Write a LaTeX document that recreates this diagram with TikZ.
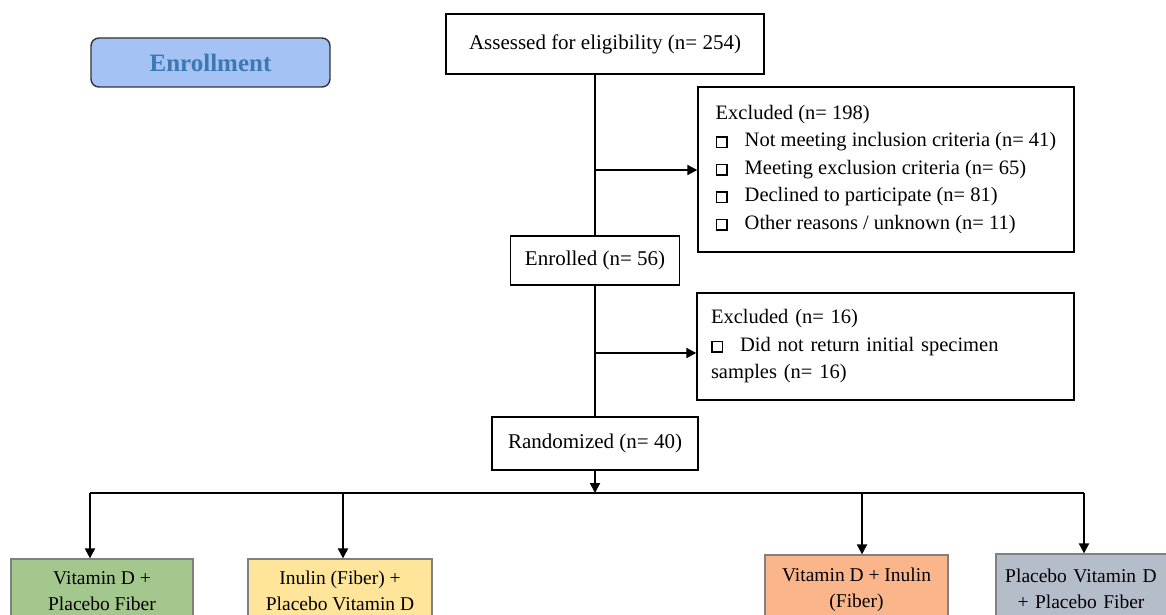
\documentclass[tikz,border=0pt]{standalone}
\usepackage{fontspec}
\setmainfont{Liberation Serif}
\usetikzlibrary{arrows.meta}
\definecolor{enrfill}{HTML}{A4C2F4}
\definecolor{enrtext}{HTML}{3C78B4}
\definecolor{gfill}{HTML}{A3C78D}
\definecolor{yfill}{HTML}{FFE59A}
\definecolor{ofill}{HTML}{FBB58A}
\definecolor{sfill}{HTML}{B5BDCA}
\newcommand\chkbox{{\setlength\fboxrule{1.5pt}\setlength\fboxsep{0pt}\fbox{\rule{0pt}{9pt}\rule{9pt}{0pt}}}\hspace{17pt}}
\tikzset{
  mainbox/.style={draw=black, line width=1.4pt, fill=white, inner sep=0pt, align=center,
    font=\fontsize{21}{27}\selectfont},
  exbox/.style={draw=black, line width=1.4pt, fill=white, inner xsep=15pt, inner ysep=0pt, align=left,
    font=\fontsize{20.5}{27.5}\selectfont},
  armbox/.style={draw=black!50, line width=1.2pt, inner sep=0pt, align=center,
    font=\fontsize{19.5}{26}\selectfont},
  conn/.style={line width=2pt, black},
  arr/.style={conn, -{Triangle[length=10pt,width=10pt]}},
}
\begin{document}
\begin{tikzpicture}[x=1pt,y=-1pt]
\useasboundingbox[fill=white] (0,0) rectangle (1166,615);
% enrollment label
\node[draw=black!80, line width=1.4pt, rounded corners=8pt, fill=enrfill, text=enrtext,
  minimum width=239pt, minimum height=49pt, inner sep=0pt,
  font=\fontsize{25}{30}\selectfont\bfseries] (enr) at (210.5,62.5) {Enrollment};
% main flow
\node[mainbox, minimum width=318pt, minimum height=60pt] (assess) at (605,44) {Assessed for eligibility (n= 254)};
\node[exbox, minimum width=376pt, minimum height=165pt] (ex1) at (886,169.5)
  {Excluded (n= 198)\\
   \chkbox Not meeting inclusion criteria (n= 41)\\
   \chkbox Meeting exclusion criteria (n= 65)\\
   \chkbox Declined to participate (n= 81)\\
   \chkbox Other reasons / unknown (n= 11)};
\node[mainbox, minimum width=169pt, minimum height=49pt] (enrolled) at (595,260.5) {Enrolled (n= 56)};
\node[exbox, inner xsep=14pt, text width=349pt, minimum width=377pt, minimum height=107pt] (ex2) at (885.5,346.5)
  {Excluded (n= 16)\\
   \chkbox Did not return initial specimen\\
   samples (n= 16)};
\node[mainbox, minimum width=206pt, minimum height=53pt] (rand) at (595,443.5) {Randomized (n= 40)};
% arms
\node[armbox, fill=gfill, minimum width=182pt, minimum height=64pt] (arm1) at (102,591) {Vitamin D +\\Placebo Fiber};
\node[armbox, fill=yfill, minimum width=184pt, minimum height=64pt] (arm2) at (340,591) {Inulin (Fiber) +\\Placebo Vitamin D};
\node[armbox, fill=ofill, minimum width=183pt, minimum height=70pt] (arm3) at (856.5,590) {Vitamin D + Inulin\\(Fiber)};
\node[armbox, fill=sfill, minimum width=180pt, minimum height=70pt, text width=170pt] (arm4) at (1086,589) {\hspace*{-10pt}Placebo Vitamin D\\\hspace*{-10pt}+ Placebo Fiber};
% connectors
\coordinate (b1) at (595,170);
\coordinate (b2) at (595,353);
\coordinate (hl) at (90,493);
\coordinate (hm) at (595,493);
\coordinate (hr) at (1084,493);
\coordinate (h2) at (343,493);
\coordinate (h3) at (862,493);
\draw[conn] (assess.south -| rand.north) -- (enrolled.north);
\draw[conn] (enrolled.south) -- (rand.north);
\draw[arr] (b1) -- (b1 -| ex1.west);
\draw[arr] (b2) -- (b2 -| ex2.west);
\draw[arr] (rand.south) -- (hm);
\draw[conn] (hl) -- (hr);
\draw[arr] (hl) -- (hl |- arm1.north);
\draw[arr] (h2) -- (h2 |- arm2.north);
\draw[arr] (h3) -- (h3 |- arm3.north);
\draw[arr] (hr) -- (hr |- arm4.north);
\end{tikzpicture}
\end{document}
